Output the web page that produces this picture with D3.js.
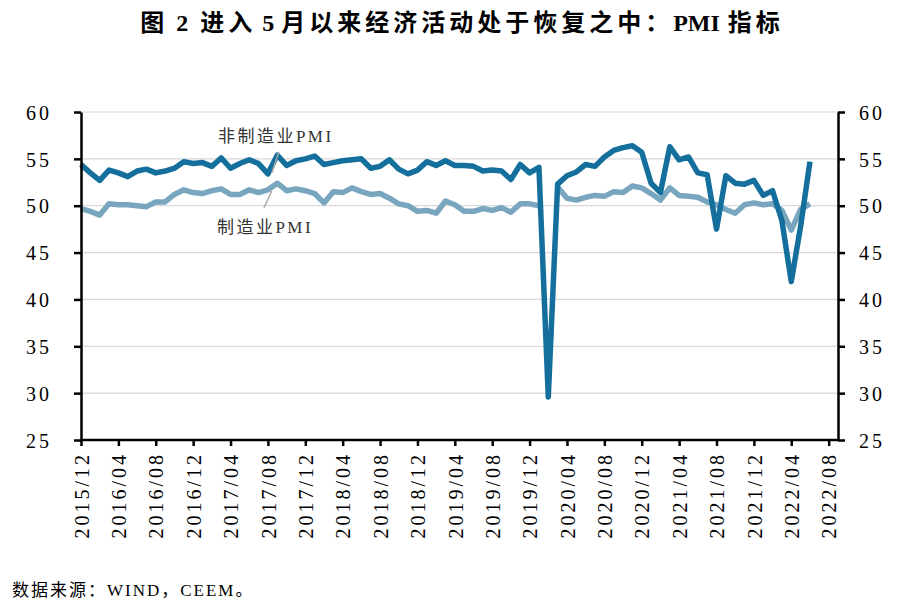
<!DOCTYPE html>
<html>
<head>
<meta charset="utf-8">
<script src="https://cdn.jsdelivr.net/npm/d3@7"></script>
<style>
  body { margin: 0; background: #fff; }
  svg { display: block; }
  .num { font-family: "Liberation Serif", "Times New Roman", serif; font-size: 20px; letter-spacing: 3px; fill: #000; }
  .cjk { font-family: "Liberation Serif", "Noto Sans CJK SC", serif; }
</style>
</head>
<body>
<div id="chart"></div>
<script>
// PMI chart, 2015/12 - 2022/06, monthly

const startMonth = "2015/12";

// 非制造业PMI
const nonManufacturing = [
  54.4,
  53.5, 52.7, 53.8, 53.5, 53.1, 53.7, 53.9, 53.5, 53.7, 54.0, 54.7, 54.5,
  54.6, 54.2, 55.1, 54.0, 54.5, 54.9, 54.5, 53.4, 55.4, 54.3, 54.8, 55.0,
  55.3, 54.4, 54.6, 54.8, 54.9, 55.0, 54.0, 54.2, 54.9, 53.9, 53.4, 53.8,
  54.7, 54.3, 54.8, 54.3, 54.3, 54.2, 53.7, 53.8, 53.7, 52.8, 54.4, 53.5,
  54.1, 29.6, 52.3, 53.2, 53.6, 54.4, 54.2, 55.2, 55.9, 56.2, 56.4, 55.7,
  52.4, 51.4, 56.3, 54.9, 55.2, 53.5, 53.3, 47.5, 53.2, 52.4, 52.3, 52.7,
  51.1, 51.6, 48.4, 41.9, 47.8, 54.7
];

// 制造业PMI (2020/02 not drawn in the source chart)
const manufacturing = [
  49.7,
  49.4, 49.0, 50.2, 50.1, 50.1, 50.0, 49.9, 50.4, 50.4, 51.2, 51.7, 51.4,
  51.3, 51.6, 51.8, 51.2, 51.2, 51.7, 51.4, 51.7, 52.4, 51.6, 51.8, 51.6,
  51.3, 50.3, 51.5, 51.4, 51.9, 51.5, 51.2, 51.3, 50.8, 50.2, 50.0, 49.4,
  49.5, 49.2, 50.5, 50.1, 49.4, 49.4, 49.7, 49.5, 49.8, 49.3, 50.2, 50.2,
  50.0, null, 52.0, 50.8, 50.6, 50.9, 51.1, 51.0, 51.5, 51.4, 52.1, 51.9,
  51.3, 50.6, 51.9, 51.1, 51.0, 50.9, 50.4, 50.1, 49.6, 49.2, 50.1, 50.3,
  50.1, 50.2, 49.5, 47.4, 49.6, 50.2
];

const xTickLabels = [
  "2015/12", "2016/04", "2016/08", "2016/12", "2017/04", "2017/08", "2017/12",
  "2018/04", "2018/08", "2018/12", "2019/04", "2019/08", "2019/12", "2020/04",
  "2020/08", "2020/12", "2021/04", "2021/08", "2021/12", "2022/04", "2022/08"
];
const yTicks = [25, 30, 35, 40, 45, 50, 55, 60];

// title pieces: [text, isCJK, gap before]
const titleParts = [
  ["图", true, 0], ["2", false, 8], ["进入", true, 12], ["5", false, 6],
  ["月以来经济活动处于恢复之中：", true, 7], ["PMI", false, 0], ["指标", true, 8]
];

const width = 912, height = 610;
const margin = { top: 112, right: 74, bottom: 170, left: 81 };
const innerW = width - margin.left - margin.right;
const innerH = height - margin.top - margin.bottom;

// month index from "YYYY/MM"
const [y0, m0] = startMonth.split("/").map(Number);
const monthIndex = s => {
  const [y, m] = s.split("/").map(Number);
  return (y - y0) * 12 + (m - m0);
};

const svg = d3.select("#chart").append("svg")
  .attr("width", width)
  .attr("height", height);

const g = svg.append("g").attr("transform", `translate(${margin.left},${margin.top})`);

const x = d3.scaleLinear().domain([0, monthIndex("2022/09")]).range([0, innerW]);
const y = d3.scaleLinear().domain([25, 60]).range([innerH, 0]);

// gridlines
g.append("g")
  .selectAll("line")
  .data(yTicks.filter(d => d > 25))
  .join("line")
  .attr("x1", 0).attr("x2", innerW)
  .attr("y1", d => y(d)).attr("y2", d => y(d))
  .attr("stroke", "#d9d9d9")
  .attr("stroke-width", 1.2);

// lines
const line = d3.line()
  .defined(d => d != null)
  .x((d, i) => x(i))
  .y(d => y(d));

g.append("path")
  .datum(manufacturing)
  .attr("fill", "none")
  .attr("stroke", "#79a6bf")
  .attr("stroke-width", 5.5)
  .attr("stroke-linejoin", "round")
  .attr("d", line);

g.append("path")
  .datum(nonManufacturing)
  .attr("fill", "none")
  .attr("stroke", "#156f9d")
  .attr("stroke-width", 5.5)
  .attr("stroke-linejoin", "round")
  .attr("d", line);

// axes
const styleAxis = sel => {
  sel.select(".domain").attr("stroke", "#000").attr("stroke-width", 2.5);
  sel.selectAll(".tick line").attr("stroke", "#000").attr("stroke-width", 2.5);
  sel.selectAll(".tick text").attr("class", "num").attr("fill", "#000");
};

const yLeft = g.append("g")
  .call(d3.axisLeft(y).tickValues(yTicks).tickSize(7).tickSizeOuter(0).tickPadding(22))
  .call(styleAxis);
yLeft.selectAll(".tick text").attr("dy", "0.36em");

const yRight = g.append("g")
  .attr("transform", `translate(${innerW},0)`)
  .call(d3.axisRight(y).tickValues(yTicks).tickSize(7).tickSizeOuter(0).tickPadding(14))
  .call(styleAxis);
yRight.selectAll(".tick text").attr("dy", "0.36em");

const xAxis = g.append("g")
  .attr("transform", `translate(0,${innerH})`)
  .call(d3.axisBottom(x)
    .tickValues(xTickLabels.map(monthIndex))
    .tickFormat(i => xTickLabels.find(s => monthIndex(s) === i))
    .tickSize(6).tickSizeOuter(0))
  .call(styleAxis);
xAxis.select(".domain").attr("d", `M0,0H${innerW}`);
xAxis.selectAll(".tick text")
  .attr("text-anchor", "end")
  .attr("transform", "rotate(-90)")
  .attr("x", -12)
  .attr("y", 0)
  .attr("dy", "0.36em");

// series labels with leader lines
const labels = [
  { text: "非制造业PMI", month: "2017/08", value: nonManufacturing[monthIndex("2017/08")],
    lx: -50, ly: -32, x1: 11, y1: -22, x2: 4, y2: -1 },
  { text: "制造业PMI", month: "2017/08", value: manufacturing[monthIndex("2017/08")],
    lx: -51, ly: 43, x1: -4, y1: 18, x2: 4, y2: 1 }
];

const ann = g.append("g");
labels.forEach(d => {
  const px = x(monthIndex(d.month)), py = y(d.value);
  ann.append("line")
    .attr("x1", px + d.x1).attr("y1", py + d.y1)
    .attr("x2", px + d.x2).attr("y2", py + d.y2)
    .attr("stroke", "#a6a6a6")
    .attr("stroke-width", 1.5);
  ann.append("text")
    .attr("class", "cjk")
    .attr("x", px + d.lx)
    .attr("y", py + d.ly)
    .attr("font-size", 17)
    .attr("letter-spacing", 2.5)
    .attr("fill", "#333")
    .text(d.text);
});

// title
const title = svg.append("text")
  .attr("class", "cjk")
  .attr("x", 462)
  .attr("y", 31)
  .attr("text-anchor", "middle")
  .attr("font-size", 24)
  .attr("font-weight", "bold")
  .attr("fill", "#000");
title.selectAll("tspan")
  .data(titleParts)
  .join("tspan")
  .attr("dx", d => d[2])
  .attr("letter-spacing", d => d[1] ? 4 : 0)
  .text(d => d[0]);

// source
svg.append("text")
  .attr("class", "cjk")
  .attr("x", 12)
  .attr("y", 596)
  .attr("font-size", 17)
  .attr("letter-spacing", 2)
  .attr("fill", "#000")
  .text("数据来源：WIND，CEEM。");
</script>
</body>
</html>
